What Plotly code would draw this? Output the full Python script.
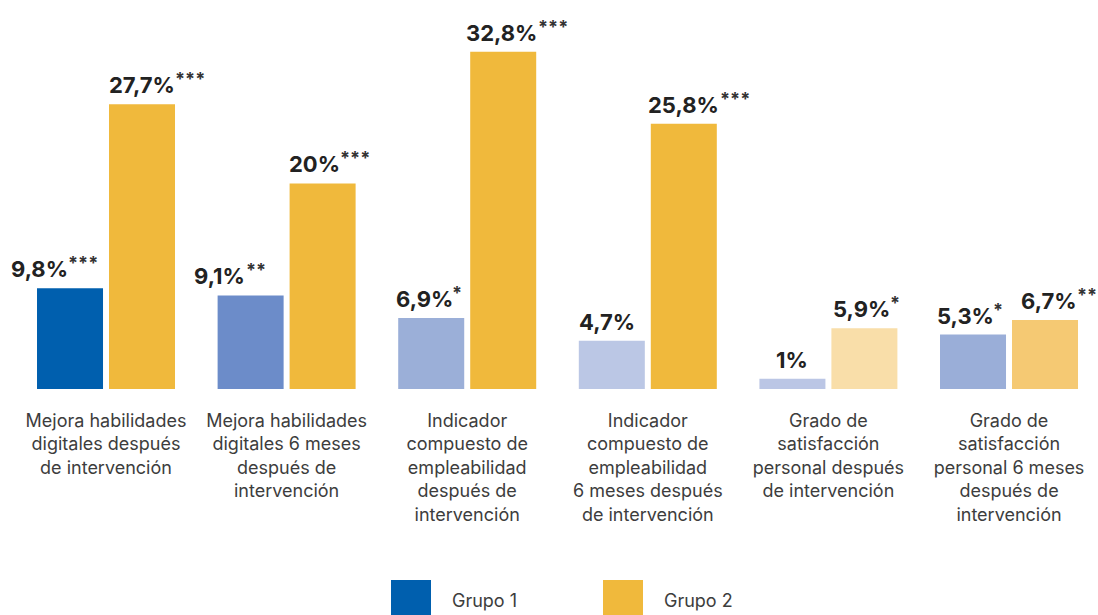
import plotly.graph_objects as go

categories = [
    "Mejora habilidades<br>digitales después<br>de intervención",
    "Mejora habilidades<br>digitales 6 meses<br>después de<br>intervención",
    "Indicador<br>compuesto de<br>empleabilidad<br>después de<br>intervención",
    "Indicador<br>compuesto de<br>empleabilidad<br>6 meses después<br>de intervención",
    "Grado de<br>satisfacción<br>personal después<br>de intervención",
    "Grado de<br>satisfacción<br>personal 6 meses<br>después de<br>intervención",
]
group_names = ["Grupo 1", "Grupo 2"]
grupo1 = [9.8, 9.1, 6.9, 4.7, 1.0, 5.3]
grupo2 = [27.7, 20.0, 32.8, 25.8, 5.9, 6.7]
grupo1_text = ["9,8%", "9,1%", "6,9%", "4,7%", "1%", "5,3%"]
grupo2_text = ["27,7%", "20%", "32,8%", "25,8%", "5,9%", "6,7%"]
grupo1_sig = ["***", "**", "*", "", "", "*"]
grupo2_sig = ["***", "***", "***", "***", "*", "**"]

# styles
g1_colors = ["#005FAE", "#6C8CC9", "#9BAFD8", "#BBC7E5", "#BBC6E5", "#9AAED8"]
g2_colors = ["#F0B93C", "#F0B93C", "#F0B93C", "#F0B93C", "#F9DEA9", "#F5C973"]
legend_colors = ["#005FAE", "#F0B93C"]
# pixel offsets of each value label (number and significance stars) from the bar's left edge
g1_label_shift = [-28, -26, -4, -2, 15, -5]
g2_label_shift = [-2, -3, -6, -5, 0, 7]
g1_sig_shift = [29, 26, 52, 0, 0, 51]
g2_sig_shift = [64, 48, 66, 67, 57, 63]

BAR_W = 0.3655
OFF1 = -0.382
OFF2 = 0.0166
FONT = "Inter, 'Open Sans', sans-serif"

FIG_W, FIG_H = 1098, 615
PLOT_H = 389  # plot baseline at 389px
PX_PER_UNIT_X = 180.6
X0 = -106 / PX_PER_UNIT_X

x = list(range(len(categories)))

fig = go.Figure()
fig.add_trace(go.Bar(x=x, y=grupo1, name=group_names[0], width=BAR_W, offset=OFF1,
                     marker=dict(color=g1_colors, line=dict(width=0)), showlegend=False,
                     hoverinfo="skip"))
fig.add_trace(go.Bar(x=x, y=grupo2, name=group_names[1], width=BAR_W, offset=OFF2,
                     marker=dict(color=g2_colors, line=dict(width=0)), showlegend=False,
                     hoverinfo="skip"))

annotations = []
for vals, texts, sigs, off, shifts, sshifts in [
    (grupo1, grupo1_text, grupo1_sig, OFF1, g1_label_shift, g1_sig_shift),
    (grupo2, grupo2_text, grupo2_sig, OFF2, g2_label_shift, g2_sig_shift),
]:
    for i, (v, t, s, sh, ss) in enumerate(zip(vals, texts, sigs, shifts, sshifts)):
        annotations.append(dict(
            x=i + off, y=v, xref="x", yref="y", text=f"<b>{t}</b>", showarrow=False,
            xanchor="left", yanchor="bottom", xshift=sh, yshift=4,
            font=dict(family=FONT, size=22, color="#222222"),
        ))
        if s:
            annotations.append(dict(
                x=i + off, y=v, xref="x", yref="y", text=f"<b>{s}</b>", showarrow=False,
                xanchor="left", yanchor="bottom", xshift=ss, yshift=13,
                font=dict(family=FONT, size=18, color="#333333"),
            ))

# legend (drawn manually to match the large square swatches)
leg_x = [391, 603]
shapes = []
for name, col, lx in zip(group_names, legend_colors, leg_x):
    shapes.append(dict(type="rect", xref="paper", yref="paper",
                       x0=lx / FIG_W, x1=(lx + 40) / FIG_W,
                       y0=(PLOT_H - 580) / PLOT_H, y1=(PLOT_H - 625) / PLOT_H,
                       fillcolor=col, line=dict(width=0), layer="above"))
    annotations.append(dict(x=(lx + 59) / FIG_W, y=(PLOT_H - 600) / PLOT_H, xref="paper", yref="paper",
                            text=name, showarrow=False, xanchor="left", yanchor="middle",
                            font=dict(family=FONT, size=18, color="#3d3d3d")))

fig.update_layout(
    width=FIG_W, height=FIG_H,
    margin=dict(l=0, r=0, t=0, b=FIG_H - PLOT_H, pad=0),
    paper_bgcolor="white", plot_bgcolor="white",
    showlegend=False,
    xaxis=dict(range=[X0, X0 + FIG_W / PX_PER_UNIT_X], tickmode="array", tickvals=x, ticktext=categories,
               showgrid=False, zeroline=False, showline=False, ticks="",
               tickfont=dict(family=FONT, size=18, color="#3d3d3d"),
               ticklabelstandoff=19, fixedrange=True),
    yaxis=dict(range=[0, PLOT_H / 10.28], visible=False, fixedrange=True),
    annotations=annotations,
    shapes=shapes,
)

fig.write_html(
    "out.html",
    config={"displayModeBar": False, "staticPlot": True},
    post_script="document.body.style.margin='0';document.body.style.overflow='hidden';",
)
